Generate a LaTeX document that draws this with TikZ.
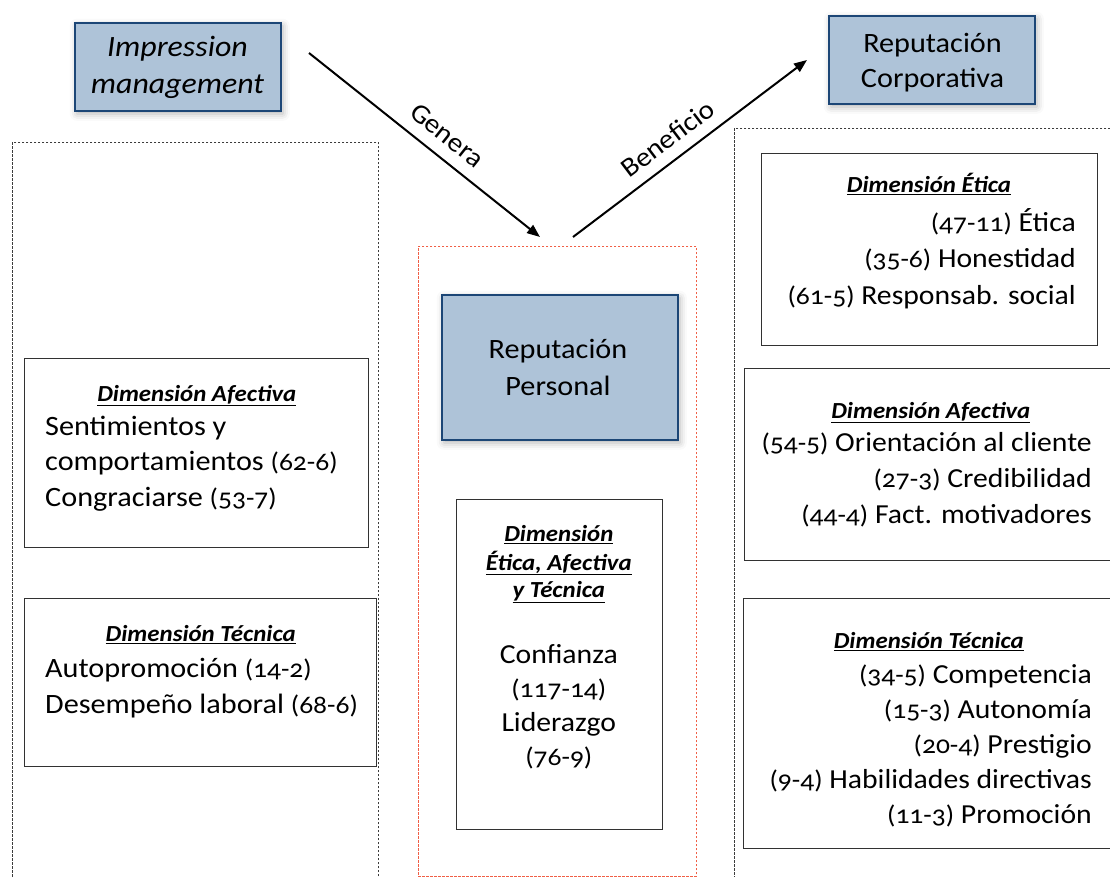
\documentclass[tikz,border=0pt]{standalone}
\usepackage{fontspec}
\setmainfont{Carlito}[Numbers=OldStyle, FakeStretch=1.08]
\usetikzlibrary{arrows.meta,shadows.blur}
\definecolor{boxfill}{RGB}{174,195,216}
\definecolor{boxline}{RGB}{28,70,118}
\definecolor{framegray}{RGB}{60,60,60}
\definecolor{framered}{RGB}{240,95,70}
\definecolor{dimline}{RGB}{50,50,50}
% numbers in parentheses are set a little smaller
\newcommand\nb[1]{{\fontsize{25.5}{25.5}\selectfont#1}}
% underlined bold italic dimension heading
\newcommand\hd[1]{\underline{\textbf{\textit{#1}}}}
\tikzset{
  bluebox/.style={draw=boxline, line width=1.6pt, fill=boxfill, inner sep=0pt, anchor=north west,
    blur shadow={shadow xshift=2pt, shadow yshift=-3pt, shadow blur radius=7pt, shadow opacity=30}},
  dimbox/.style={draw=dimline, line width=1.2pt, inner sep=0pt, anchor=north west},
  grayframe/.style={draw=framegray, line width=0.9pt, dash pattern=on 2.5pt off 1.5pt},
  redframe/.style={draw=framered, line width=0.9pt, dash pattern=on 2.5pt off 1.5pt},
  txt/.style={inner sep=0pt, font=\fontsize{27.5}{32}\selectfont},
  bigtxt/.style={inner sep=0pt, font=\fontsize{28}{32}\selectfont},
  headtxt/.style={inner sep=0pt, font=\fontsize{23}{26}\selectfont, anchor=base},
  arr/.style={line width=2pt, -{Triangle[length=13pt,width=10pt]}},
}
\begin{document}
\begin{tikzpicture}[x=1pt,y=-1pt]
\useasboundingbox (0,0) rectangle (1110,877);

% outer frames
\node[grayframe, inner sep=0pt, anchor=north west, minimum width=366, minimum height=760] (lframe) at (12,142) {};
\node[redframe, inner sep=0pt, anchor=north west, minimum width=278, minimum height=630] (mframe) at (418,246) {};
\node[grayframe, inner sep=0pt, anchor=north west, minimum width=400, minimum height=780] (rframe) at (734,128) {};

% main concept boxes
\node[bluebox, minimum width=206, minimum height=88] (imp) at (74,22) {};
\node[bluebox, minimum width=206, minimum height=88] (corp) at (828,15) {};
\node[bluebox, minimum width=236, minimum height=145] (pers) at (441,294) {};

\node[txt, anchor=base, font=\fontsize{29.5}{32}\selectfont\itshape] (imp1) at (177.5,56.7) {Impression};
\node[txt, anchor=base, font=\fontsize{29.5}{32}\selectfont\itshape] (imp2) at (177.5,93.3) {management};
\node[txt, anchor=base, font=\fontsize{28}{32}\selectfont] (corp1) at (932.5,53) {Reputación};
\node[txt, anchor=base, font=\fontsize{28}{32}\selectfont] (corp2) at (932.5,88) {Corporativa};
\node[bigtxt, anchor=base] (pers1) at (558,358) {Reputación};
\node[bigtxt, anchor=base] (pers2) at (558,395) {Personal};

% arrows
\coordinate (gs) at (309,53);
\coordinate (ge) at (540,237);
\coordinate (bs) at (573,237);
\coordinate (be) at (807,60);
\draw[arr] (gs) -- (ge) node[txt, font=\fontsize{27}{30}\selectfont, pos=0.54, sloped, above=12pt] (gen) {Genera};
\draw[arr] (bs) -- (be) node[txt, font=\fontsize{27}{30}\selectfont, pos=0.46, sloped, above=11pt] (ben) {Beneficio};

% left column: impression management dimensions
\node[dimbox, minimum width=344, minimum height=189] (laf) at (24,358) {};
\node[headtxt] (laf0) at (196.8,401.5) {\hd{Dimensión Afectiva}};
\node[bigtxt, anchor=base west] (laf1) at (45,435) {Sentimientos y};
\node[bigtxt, anchor=base west] (laf2) at (45,470) {comportamientos \nb{(62-6)}};
\node[bigtxt, anchor=base west] (laf3) at (45,506) {Congraciarse \nb{(53-7)}};

\node[dimbox, minimum width=352, minimum height=168] (lte) at (24,598) {};
\node[headtxt] (lte0) at (200.7,641.5) {\hd{Dimensión Técnica}};
\node[bigtxt, anchor=base west] (lte1) at (45,677) {Autopromoción \nb{(14-2)}};
\node[bigtxt, anchor=base west] (lte2) at (45,713) {Desempeño laboral \nb{(68-6)}};

% middle column: personal reputation
\node[dimbox, minimum width=206, minimum height=330] (mid) at (456,499) {};
\node[headtxt] (mid0a) at (558.8,541.7) {\hd{Dimensión}};
\node[headtxt] (mid0b) at (558.8,570) {\hd{Ética, Afectiva}};
\node[headtxt] (mid0c) at (558.8,597) {\hd{y Técnica}};
\node[txt, anchor=base] (mid1) at (558.8,663.5) {Confianza};
\node[txt, anchor=base] (mid2) at (558.8,697) {\nb{(117-14)}};
\node[txt, anchor=base] (mid3) at (558.8,731) {Liderazgo};
\node[txt, anchor=base] (mid4) at (558.8,765) {\nb{(76-9)}};

% right column: corporate reputation dimensions
\node[dimbox, minimum width=336, minimum height=192] (ret) at (761,153) {};
\node[headtxt] (ret0) at (929,193) {\hd{Dimensión Ética}};
\node[txt, anchor=base east] (ret1) at (1076,231.5) {\nb{(47-11)} Ética};
\node[txt, anchor=base east] (ret2) at (1076,268) {\nb{(35-6)} Honestidad};
\node[txt, anchor=base east] (ret3) at (1076,304) {\nb{(61-5)} Responsab. social};

\node[dimbox, minimum width=380, minimum height=192] (raf) at (744,368) {};
\node[headtxt] (raf0) at (930.8,418) {\hd{Dimensión Afectiva}};
\node[txt, anchor=base east] (raf1) at (1092,451.5) {\nb{(54-5)} Orientación al cliente};
\node[txt, anchor=base east] (raf2) at (1092,487) {\nb{(27-3)} Credibilidad};
\node[txt, anchor=base east] (raf3) at (1092,523) {\nb{(44-4)} Fact. motivadores};

\node[dimbox, minimum width=380, minimum height=250] (rte) at (743,598) {};
\node[headtxt] (rte0) at (928.8,648.5) {\hd{Dimensión Técnica}};
\node[txt, anchor=base east] (rte1) at (1092,683) {\nb{(34-5)} Competencia};
\node[txt, anchor=base east] (rte2) at (1092,718) {\nb{(15-3)} Autonomía};
\node[txt, anchor=base east] (rte3) at (1092,753) {\nb{(20-4)} Prestigio};
\node[txt, anchor=base east] (rte4) at (1092,788) {\nb{(9-4)} Habilidades directivas};
\node[txt, anchor=base east] (rte5) at (1092,823) {\nb{(11-3)} Promoción};
\end{tikzpicture}
\end{document}
